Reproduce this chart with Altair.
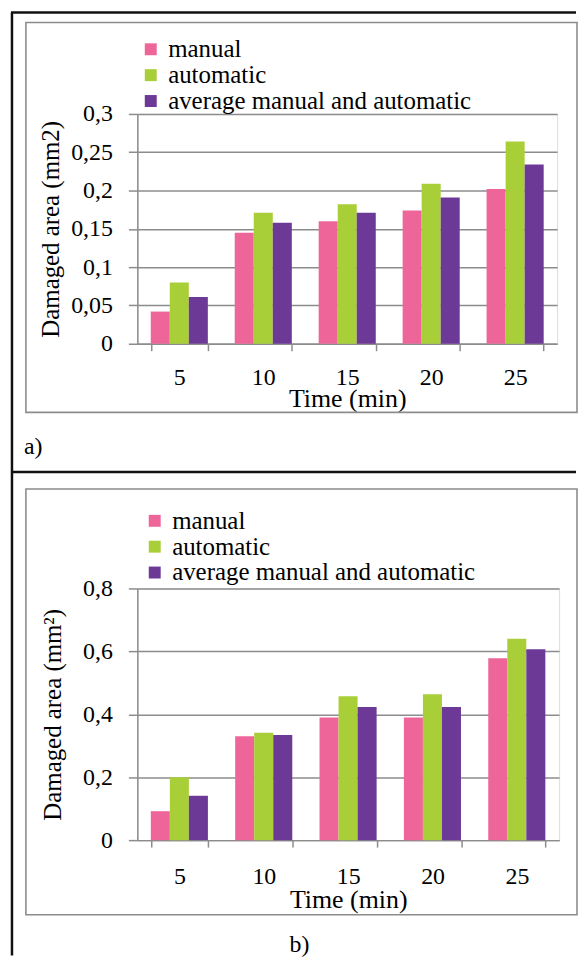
import altair as alt
import pandas as pd

# ---------------- data ----------------
times = ["5", "10", "15", "20", "25"]
series = ["manual", "automatic", "average manual and automatic"]
colors = ["#EE6699", "#A9CF38", "#6C3A96"]

a_manual = [0.042, 0.145, 0.160, 0.174, 0.202]
a_auto = [0.080, 0.171, 0.182, 0.209, 0.264]
a_avg = [0.061, 0.158, 0.171, 0.191, 0.234]

b_manual = [0.092, 0.330, 0.390, 0.390, 0.578]
b_auto = [0.200, 0.341, 0.457, 0.464, 0.640]
b_avg = [0.141, 0.334, 0.423, 0.423, 0.607]

a_ticks = [0, 0.05, 0.1, 0.15, 0.2, 0.25, 0.3]
b_ticks = [0, 0.2, 0.4, 0.6, 0.8]


def make_df(m, a, v):
    rows = []
    for i, t in enumerate(times):
        for s, vals in zip(series, (m, a, v)):
            rows.append({"time": t, "series": s, "value": vals[i]})
    return pd.DataFrame(rows)


df_a = make_df(a_manual, a_auto, a_avg)
df_b = make_df(b_manual, b_auto, b_avg)

FONT = "Liberation Serif, Times New Roman, serif"
GRAY = "#8c8c8c"
one = pd.DataFrame({"d": [0]})


def bars(df, w, h, ticks, ytitle, title_x, lab_pad_x, title_y, leg_x, leg_y):
    ymax = ticks[-1]
    return alt.Chart(df).mark_bar().encode(
        x=alt.X("time:N", sort=times,
                scale=alt.Scale(paddingInner=0.32, paddingOuter=0.16),
                axis=alt.Axis(title="Time (min)", labelAngle=0, tickBand="extent",
                              ticks=True, tickSize=7, tickColor=GRAY, tickWidth=1.5,
                              domainColor=GRAY, domainWidth=1.5, grid=False,
                              labelFont=FONT, labelFontSize=24, labelColor="black",
                              labelPadding=lab_pad_x,
                              titleFont=FONT, titleFontSize=26, titleFontWeight="normal",
                              titleColor="black", titleBaseline="middle", titleY=title_y)),
        xOffset=alt.XOffset("series:N", sort=series,
                            scale=alt.Scale(paddingInner=0, paddingOuter=0)),
        y=alt.Y("value:Q", scale=alt.Scale(domain=[0, ymax], nice=False, zero=True),
                axis=alt.Axis(values=ticks, title=ytitle,
                              labelExpr="replace(format(datum.value, '.2~f'), '.', ',')",
                              grid=True, gridColor=GRAY, gridWidth=1.5,
                              tickSize=9, tickColor=GRAY, tickWidth=1.5,
                              domainColor=GRAY, domainWidth=1.5,
                              labelFont=FONT, labelFontSize=24, labelColor="black",
                              labelPadding=16,
                              titleFont=FONT, titleFontSize=25, titleFontWeight="normal",
                              titleColor="black", titleBaseline="middle",
                              titleX=title_x, titleY=h / 2, titleAngle=270)),
        color=alt.Color("series:N", sort=series,
                        scale=alt.Scale(domain=series, range=colors),
                        legend=alt.Legend(title=None, orient="none", legendX=leg_x,
                                          legendY=leg_y, symbolType="square",
                                          symbolSize=144, symbolStrokeWidth=0,
                                          labelFont=FONT, labelFontSize=25,
                                          labelColor="black", rowPadding=-1,
                                          padding=0, labelOffset=5, labelLimit=0)),
    ).properties(width=w, height=h)


def rule(**enc):
    return alt.Chart(one).mark_rule(color="#111111", strokeWidth=2.5).encode(**enc)


def box(x1, x2, y1, y2):
    return alt.Chart(one).mark_rect(fillOpacity=0, stroke=GRAY, strokeWidth=1.6).encode(
        x=alt.value(x1), x2=alt.value(x2), y=alt.value(y1), y2=alt.value(y2))


def label(txt, x, y, align):
    return alt.Chart(one).mark_text(text=txt, font=FONT, fontSize=24, color="black",
                                    align=align, baseline="middle").encode(
        x=alt.value(x), y=alt.value(y))


WA, HA = 422, 231
WB, HB = 424, 253

panel_a = alt.layer(
    box(-112, 442, -92, 300),
    rule(x=alt.value(-126), y=alt.value(-102), y2=alt.value(846)),
    rule(x=alt.value(-127), x2=alt.value(441), y=alt.value(-102)),
    rule(x=alt.value(-127), x2=alt.value(441), y=alt.value(360)),
    label("a)", -114, 335, "left"),
    bars(df_a, WA, HA, a_ticks, "Damaged area (mm2)", -87, 15, 55, 1, -77.5),
)

panel_b = alt.layer(
    box(-112, 442, -100, 328),
    label("b)", 163, 358, "center"),
    bars(df_b, WB, HB, b_ticks, "Damaged area (mm\u00b2)", -85, 18, 60, 5, -80.5),
)

chart = alt.vconcat(panel_a, panel_b, spacing=246, bounds="flush",
                    padding={"left": 1, "top": 0, "right": 0, "bottom": 0}
                    ).resolve_scale(x="independent", y="independent", color="independent"
                    ).resolve_legend(color="independent"
                    ).configure_view(stroke="#222222", strokeWidth=1
                    ).configure(background="white")

chart.save("out.html", embed_options={"renderer": "svg", "actions": False})
